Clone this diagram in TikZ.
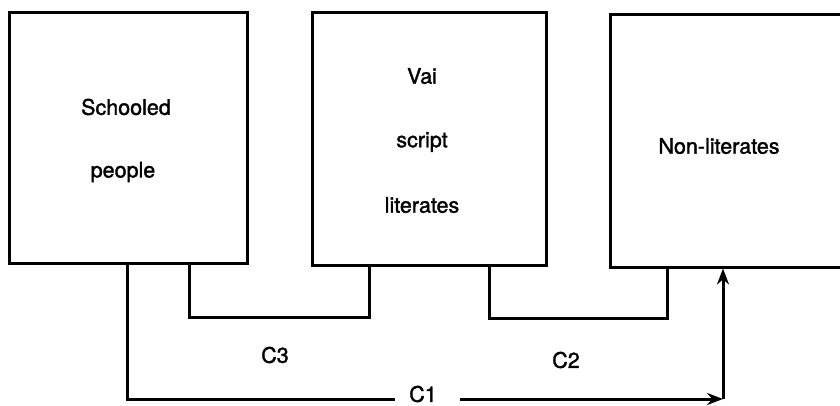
\documentclass[tikz,border=0pt]{standalone}
\usepackage{fontspec}
\setmainfont{TeX Gyre Heros}
\newfontfamily\lblfont[FakeBold=1.5]{TeX Gyre Heros}
\usetikzlibrary{arrows.meta}
\tikzset{
  box/.style={draw, line width=3pt, rectangle, inner sep=0pt},
  lbl/.style={font=\lblfont\fontsize{21.5}{24}\selectfont, inner sep=1pt},
  conn/.style={line width=3pt},
  arr/.style={line width=3pt, -{Stealth[length=16pt,width=12pt]}}
}
\begin{document}
\begin{tikzpicture}[x=1pt,y=-1pt]
\useasboundingbox (0,0) rectangle (840,406);
\clip (0,0) rectangle (840,406);
\node[box, minimum width=238pt, minimum height=250pt] (b1) at (128,138) {};
\node[box, minimum width=234pt, minimum height=252pt] (b2) at (429,139) {};
\node[box, minimum width=250pt, minimum height=252pt] (b3) at (735,141) {};
\node[lbl] (t1a) at (126,107) {Schooled};
\node[lbl] (t1b) at (123,172) {people};
\node[lbl] (t2a) at (422,76) {Vai};
\node[lbl] (t2b) at (422,142) {script};
\node[lbl] (t2c) at (422,205) {literates};
\node[lbl] (t3) at (719,146) {Non-literates};
\coordinate (c3a) at (189,317);
\coordinate (c3b) at (369,317);
\coordinate (c2a) at (489,318);
\coordinate (c2b) at (667,318);
\coordinate (c1a) at (127,399);
\coordinate (c1c) at (723,399);
\coordinate (g1) at (395,399);
\coordinate (g2) at (460,399);
\node[lbl] (c1) at (423,394) {C1};
\node[lbl] (c3) at (275,355) {C3};
\node[lbl] (c2) at (566,360) {C2};
\draw[conn] (b1.south -| c3a) -- (c3a) -- (c3b) -- (b2.south -| c3b);
\draw[conn] (b2.south -| c2a) -- (c2a) -- (c2b) -- (b3.south -| c2b);
\draw[conn] (b1.south -| c1a) -- (c1a) -- (g1);
\draw[arr] (g2) -- (c1c);
\draw[arr] (c1c) -- (b3.south -| c1c);
\end{tikzpicture}
\end{document}
